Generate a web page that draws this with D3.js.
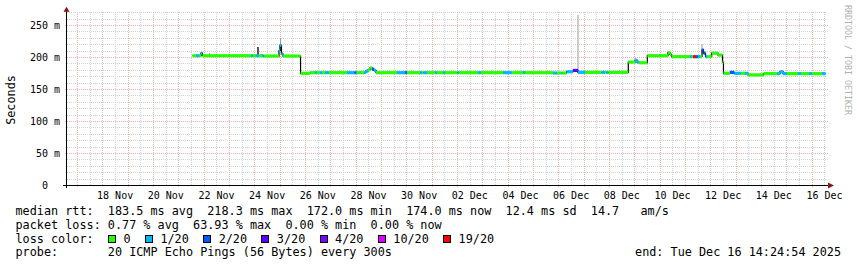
<!DOCTYPE html>
<html><head><meta charset="utf-8">
<script src="https://cdn.jsdelivr.net/npm/d3@7"></script>
<style>
html,body{margin:0;padding:0;background:#fff;}
svg{display:block;}
text{font-family:"DejaVu Sans Mono",monospace;}
</style>
</head><body>
<svg id="c" width="857" height="267"></svg>
<script>
// ---------------- data ----------------
const graphStart = "2025-11-16 14:24:54";
const graphEnd   = "2025-12-16 14:24:54";

// median rtt, piecewise (start time of each consolidated run), value in ms, loss bucket index
const segStart = [
 "2025-11-21 13:20","2025-11-21 16:40","2025-11-21 19:30","2025-11-21 21:20","2025-11-21 22:45",
 "2025-11-23 20:45","2025-11-23 22:35","2025-11-24 01:30","2025-11-24 04:20","2025-11-24 07:10",
 "2025-11-24 08:35","2025-11-24 23:15","2025-11-25 00:10","2025-11-25 01:35","2025-11-25 03:05",
 "2025-11-25 19:40","2025-11-26 04:40","2025-11-26 09:20","2025-11-26 11:15","2025-11-26 14:05",
 "2025-11-26 16:00","2025-11-26 18:50","2025-11-26 22:35","2025-11-27 15:40","2025-11-27 22:45",
 "2025-11-28 00:10","2025-11-28 01:10","2025-11-28 07:45","2025-11-28 09:40","2025-11-28 11:35",
 "2025-11-28 13:30","2025-11-28 15:20","2025-11-28 17:15","2025-11-28 19:10","2025-11-29 15:05",
 "2025-11-29 22:40","2025-11-30 00:30","2025-11-30 12:50","2025-11-30 14:45","2025-11-30 16:10",
 "2025-11-30 19:30","2025-12-01 03:05","2025-12-01 04:55","2025-12-01 10:40","2025-12-01 12:30",
 "2025-12-02 00:20","2025-12-02 01:45","2025-12-02 19:45","2025-12-02 22:40","2025-12-03 19:30",
 "2025-12-04 04:00","2025-12-04 14:25","2025-12-04 16:20","2025-12-05 18:50","2025-12-05 22:40",
 "2025-12-06 02:55","2025-12-06 03:50","2025-12-06 07:40","2025-12-06 13:45","2025-12-06 18:30",
 "2025-12-07 01:10","2025-12-07 16:45","2025-12-07 20:05","2025-12-07 21:30","2025-12-07 23:25",
 "2025-12-08 18:10","2025-12-09 00:30","2025-12-09 02:25","2025-12-09 04:20","2025-12-09 12:10",
 "2025-12-10 07:45","2025-12-10 09:40","2025-12-10 11:05","2025-12-11 04:40","2025-12-11 06:30",
 "2025-12-11 07:30","2025-12-11 10:20","2025-12-11 12:10","2025-12-11 14:05","2025-12-11 16:00",
 "2025-12-11 17:25","2025-12-11 19:20","2025-12-11 20:45","2025-12-12 01:10","2025-12-12 07:10",
 "2025-12-12 11:25","2025-12-12 12:20","2025-12-12 18:30","2025-12-12 22:35","2025-12-13 04:55",
 "2025-12-13 08:45","2025-12-13 11:35","2025-12-14 02:15","2025-12-14 15:05","2025-12-14 17:55",
 "2025-12-14 20:45","2025-12-15 00:30","2025-12-15 10:55","2025-12-15 13:45","2025-12-15 21:20",
 "2025-12-16 00:10","2025-12-16 09:40"
];
const segMedian = [
 202,202,202,206,202,
 202,202,202,202,202,
 201.5,210,218.3,205,201.5,
 174.5,175.5,175.5,175.5,175.5,
 175.5,175.5,175.5,175.5,175.5,
 175.5,175.5,176,178,180,
 183,181,179,175.5,175.5,
 175.5,175.5,175.5,175.5,175.5,
 175.5,175.5,175.5,175.5,175.5,
 175.5,175.5,175.5,175.5,175.5,
 175.5,175.5,175.5,175,175,
 175,175,177,179,176,
 176,176,176,176,176,
 192,195,192,191,202,
 207,204,200.5,200.5,200.5,
 200.5,200.5,200.5,200.5,211,
 206,200.5,200.5,206,203,
 192,174.5,176,174.5,174.5,
 174.5,172,174,174,177,
 174,174,174,174,174,
 174,174
];
const segLoss = [
 0,1,0,1,0,
 1,0,1,0,1,
 0,1,1,1,0,
 0,0,1,0,1,
 0,1,0,1,2,
 1,0,1,1,0,
 0,2,1,0,1,
 2,0,1,0,1,
 0,1,0,1,0,
 1,0,1,0,1,
 0,1,0,1,0,
 1,0,1,3,1,
 0,1,0,1,0,
 0,1,1,0,0,
 0,0,0,1,0,
 6,2,1,0,2,
 2,1,0,0,0,
 0,0,2,1,0,
 1,0,0,1,1,
 1,0,1,0,1,
 0,1
];
const dataEnd = "2025-12-16 13:00";

// smoke (spread of the 20 pings) where visible
const smokeStart = ["2025-11-22 04:30","2025-11-24 02:25","2025-11-25 00:10","2025-12-06 17:35","2025-12-09 00:30","2025-12-11 15:30"];
const smokeEnd   = ["2025-11-22 05:30","2025-11-24 04:20","2025-11-25 01:10","2025-12-06 19:00","2025-12-09 01:30","2025-12-11 16:30"];
const smokeLow   = [201,202,209,176,192,206];
const smokeHigh  = [206,215,229,265,200,221];
const smokeDensity = [3,8,4,1,1,1];

const lossLabels = ["0","1/20","2/20","3/20","4/20","10/20","19/20"];
const lossColors = ["#26ff00","#00b8ff","#0059ff","#5e00ff","#7e00ff","#dd00ff","#ff0000"];

const yTickValues = [0,50,100,150,200,250];
const yMinorStep = 10;
const yTop = 270;
const xLabelDates = ["2025-11-18","2025-11-20","2025-11-22","2025-11-24","2025-11-26","2025-11-28","2025-11-30",
 "2025-12-02","2025-12-04","2025-12-06","2025-12-08","2025-12-10","2025-12-12","2025-12-14","2025-12-16"];

const rttStats = [183.5, 218.3, 172.0, 174.0, 12.4];
const rttStatNames = ["avg","max","min","now","sd"];
const amPerSec = 14.7;
const lossStats = [0.77, 63.93, 0.00, 0.00];
const lossStatNames = ["avg","max","min","now"];
const probeText = "20 ICMP Echo Pings (56 Bytes) every 300s";
const endText = "end: Tue Dec 16 14:24:54 2025";

// ---------------- drawing ----------------
const parseT = d3.timeParse("%Y-%m-%d %H:%M");
const parseS = d3.timeParse("%Y-%m-%d %H:%M:%S");
const parseD = d3.timeParse("%Y-%m-%d");
const t0 = parseS(graphStart), t1 = parseS(graphEnd);

const L = 67, R = 827, B = 185;
const x = d3.scaleTime().domain([t0, t1]).range([L, R]);
const y = d3.scaleLinear().domain([0, 250]).range([B, 25]);
const plotTop = y(yTop);
const nb = s => s.replace(/ /g, "\u00a0");

const svg = d3.select("#c");
svg.append("rect").attr("width",857).attr("height",267).attr("fill","#fff");

const minorCol = "#d2d2d2", majorCol = "#f4b0b0";
const grid = svg.append("g").attr("shape-rendering","crispEdges");
// minor horizontal
d3.range(yMinorStep, yTop + 0.1, yMinorStep).filter(v => v % 50 !== 0).forEach(v => {
  grid.append("line").attr("x1",L).attr("x2",R).attr("y1",Math.round(y(v))+0.5).attr("y2",Math.round(y(v))+0.5)
    .attr("stroke",minorCol).attr("stroke-dasharray","1,1");
});
// minor vertical (12h)
d3.timeHour.every(12).range(t0, t1).filter(d => d.getHours() === 12).forEach(d => {
  const xx = Math.round(x(d)) + 0.5;
  grid.append("line").attr("x1",xx).attr("x2",xx).attr("y1",plotTop).attr("y2",B)
    .attr("stroke",minorCol).attr("stroke-dasharray","1,1");
});
// major vertical (days)
d3.timeDay.range(t0, t1).forEach(d => {
  const xx = Math.round(x(d)) + 0.5;
  grid.append("line").attr("x1",xx).attr("x2",xx).attr("y1",plotTop).attr("y2",B+2)
    .attr("stroke",majorCol).attr("stroke-dasharray","1,1");
});
// major horizontal
yTickValues.filter(v => v > 0).forEach(v => {
  const yy = Math.round(y(v)) + 0.5;
  grid.append("line").attr("x1",L-2).attr("x2",R+2).attr("y1",yy).attr("y2",yy)
    .attr("stroke",majorCol).attr("stroke-dasharray","1,1");
});

// smoke
const shade = d3.scaleLinear().domain([1, 8]).range(["#cccccc", "#555555"]);
smokeStart.forEach((s, i) => {
  const xa = x(parseT(s)), xb = x(parseT(smokeEnd[i]));
  svg.append("rect").attr("x", xa).attr("width", Math.max(1, xb - xa))
    .attr("y", y(smokeHigh[i])).attr("height", y(smokeLow[i]) - y(smokeHigh[i]))
    .attr("fill", shade(smokeDensity[i])).attr("shape-rendering","crispEdges");
});

// median line
const pts = segStart.map((s, i) => [parseT(s), segMedian[i]]);
pts.push([parseT(dataEnd), segMedian[segMedian.length - 1]]);
svg.append("path").attr("d", d3.line().x(d => x(d[0])).y(d => y(d[1])).curve(d3.curveStepAfter)(pts))
  .attr("fill","none").attr("stroke","#000").attr("stroke-width",1.2);

// loss-coloured bands
segStart.forEach((s, i) => {
  const xa = x(parseT(s));
  const xb = x(parseT(i + 1 < segStart.length ? segStart[i + 1] : dataEnd));
  svg.append("rect").attr("x", xa).attr("width", xb - xa)
    .attr("y", y(segMedian[i]) - 1.6).attr("height", 3.2)
    .attr("fill", lossColors[segLoss[i]]);
});

// axes
const ax = svg.append("g").attr("shape-rendering","crispEdges");
ax.append("line").attr("x1",63).attr("x2",829).attr("y1",B+0.5).attr("y2",B+0.5).attr("stroke","#000");
ax.append("line").attr("x1",L-0.5).attr("x2",L-0.5).attr("y1",B+3).attr("y2",plotTop-1).attr("stroke","#000");
svg.append("path").attr("d",`M${L-3.5},${plotTop-0.5} L${L+2.5},${plotTop-0.5} L${L-0.5},${plotTop-5.5} Z`).attr("fill","#8b1414");
svg.append("path").attr("d",`M828,${B-2.5} L828,${B+3.5} L834,${B+0.5} Z`).attr("fill","#8b1414");

// y labels
yTickValues.forEach(v => {
  svg.append("text").attr("x", v === 0 ? 48 : 60).attr("y", y(v) + 3.6)
    .attr("text-anchor","end").attr("font-size","10px").attr("fill","#000")
    .text(nb(v === 0 ? "0" : v + " m"));
});
// x labels (centred at noon)
const fmt = d3.timeFormat("%d %b");
xLabelDates.forEach(s => {
  const d = d3.timeHour.offset(parseD(s), 12);
  svg.append("text").attr("x", x(d)).attr("y", 198.5).attr("text-anchor","middle")
    .attr("font-size","10px").attr("fill","#000").text(nb(fmt(d)));
});

// titles
svg.append("text").attr("transform","translate(15,100) rotate(-90)").attr("text-anchor","middle")
  .attr("font-size","11.8px").attr("fill","#000").text("Seconds");
svg.append("text").attr("transform","translate(844.5,5) rotate(90)").attr("text-anchor","start")
  .attr("font-size","8.3px").attr("fill","#b0b0b0").text(nb("RRDTOOL / TOBI OETIKER"));

// legend
const lg = svg.append("g").attr("font-size","11.8px").attr("fill","#000");
const f1 = d3.format(".1f"), f2 = d3.format(".2f");
let l1 = "median rtt:  " + rttStats.map((v, i) => f1(v) + " ms " + rttStatNames[i]).join("  ") + "  " + f1(amPerSec) + "   am/s";
let l2 = "packet loss: " + lossStats.map((v, i) => f2(v) + " % " + lossStatNames[i]).join("  ");
lg.append("text").attr("x",15.5).attr("y",215).text(nb(l1));
lg.append("text").attr("x",15.5).attr("y",228.8).text(nb(l2));
lg.append("text").attr("x",15.5).attr("y",242.6).text(nb("loss color:"));
lg.append("text").attr("x",15.5).attr("y",256.4).text(nb("probe:       " + probeText));
lg.append("text").attr("x",841).attr("y",256.4).attr("text-anchor","end").text(nb(endText));

let cx = 108.5;
lossLabels.forEach((lab, i) => {
  lg.append("rect").attr("x", cx).attr("y", 235.5).attr("width", 7).attr("height", 7)
    .attr("fill", lossColors[i]).attr("stroke","#000").attr("stroke-width",1).attr("shape-rendering","crispEdges");
  const t = lg.append("text").attr("x", cx + 15).attr("y", 242.6).text(lab);
  cx = cx + 15 + t.node().getComputedTextLength() + 14.8;
});
</script>
</body></html>
